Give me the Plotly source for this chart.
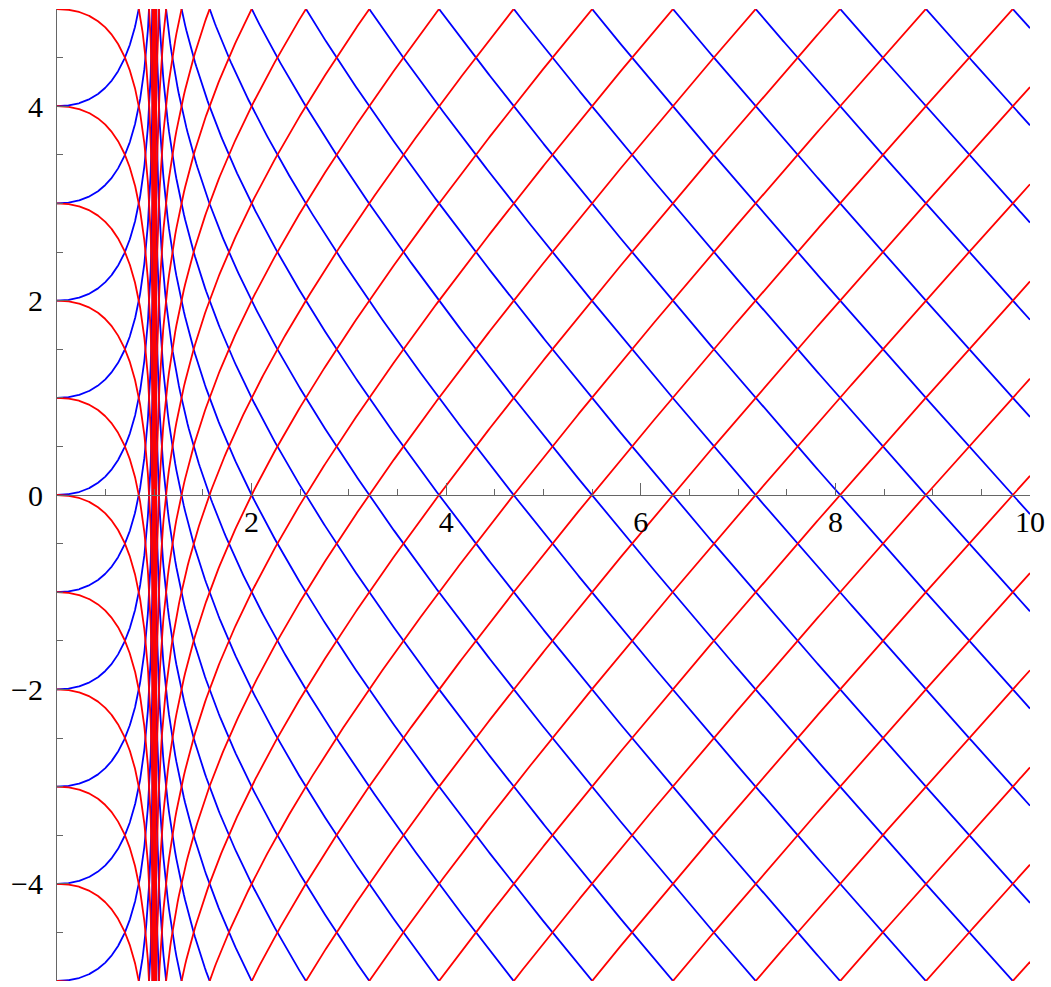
import numpy as np
import plotly.graph_objects as go

# Integer offsets of the ingoing / outgoing null lines t = n ± r*
offsets = list(range(-25, 26))
horizon = 1.0           # r = 2M
x_range = [0, 10]
y_range = [-5, 5]
x_ticks = [2, 4, 6, 8, 10]
y_ticks = [-4, -2, 0, 2, 4]


def tortoise(r):
    """Tortoise coordinate r* = r + 2M ln|r/2M - 1|."""
    return r + horizon * np.log(np.abs(r / horizon - 1.0))


# sample densely near the horizon on both sides
r_in = np.concatenate([np.linspace(0.0, 0.9, 300),
                       horizon - np.logspace(-1, -14, 600)])
r_out = np.concatenate([horizon + np.logspace(-14, -1, 600),
                        np.linspace(1.1, 10.0, 700)])


def visible(r, t, lo=-5.6, hi=5.6):
    m = (t >= lo) & (t <= hi)
    if not m.any():
        return None
    idx = np.nonzero(m)[0]
    a = max(idx[0] - 1, 0)
    b = min(idx[-1] + 2, len(r))
    return r[a:b], t[a:b]


def family(sign):
    xs, ys = [], []
    for r in (r_in, r_out):
        rs = tortoise(r)
        for n in offsets:
            seg = visible(r, n + sign * rs)
            if seg is None:
                continue
            xs.extend(seg[0].tolist() + [None])
            ys.extend(seg[1].tolist() + [None])
    return xs, ys


bx, by = family(-1)   # blue: t = n - r*
rx, ry = family(+1)   # red:  t = n + r*

fig = go.Figure()
fig.add_trace(go.Scatter(x=bx, y=by, mode="lines",
                         line=dict(color="#0000FF", width=1.8),
                         hoverinfo="skip", showlegend=False))
fig.add_trace(go.Scatter(x=rx, y=ry, mode="lines",
                         line=dict(color="#FF0000", width=1.8),
                         hoverinfo="skip", showlegend=False))

axis_color = "#666666"
font = dict(family="Liberation Serif", size=30, color="black")

fig.update_layout(
    width=1051, height=987,
    margin=dict(l=57, r=21, t=9, b=6),
    paper_bgcolor="white", plot_bgcolor="white",
    font=font,
    xaxis=dict(range=x_range, anchor="free", position=0.5, side="bottom",
               showgrid=False, zeroline=False,
               showline=True, linecolor=axis_color, linewidth=1.2,
               tickmode="array", tickvals=x_ticks,
               ticktext=[str(v) for v in x_ticks],
               ticks="inside", ticklen=12, tickcolor=axis_color, tickwidth=1.2,
               ticklabelstandoff=0,
               minor=dict(tickmode="linear", tick0=0, dtick=0.5,
                          ticks="inside", ticklen=6,
                          tickcolor=axis_color, tickwidth=1),
               tickfont=font),
    yaxis=dict(range=y_range, showgrid=False, zeroline=False,
               showline=True, linecolor=axis_color, linewidth=1.2,
               tickmode="array", tickvals=y_ticks,
               ticktext=[("\u2212" + str(-v)) if v < 0 else str(v) for v in y_ticks],
               ticks="inside", ticklen=12, tickcolor=axis_color, tickwidth=1.2,
               ticklabelstandoff=7,
               minor=dict(tickmode="linear", tick0=0, dtick=0.5,
                          ticks="inside", ticklen=6,
                          tickcolor=axis_color, tickwidth=1),
               tickfont=font),
)

fig.write_html("out.html")
